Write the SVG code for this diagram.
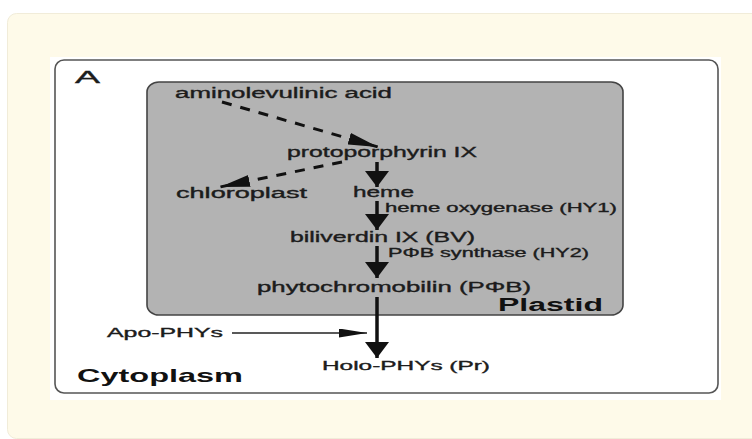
<svg xmlns="http://www.w3.org/2000/svg" width="752" height="439" viewBox="0 0 752 439">
  <style>
    .t { font-family: "Liberation Sans", Arial, sans-serif; fill: #1c1c1c; stroke: #1c1c1c; stroke-width: 0.35; }
    .n { font-size: 14px; }
    .s { font-size: 12px; }
    .m { font-size: 13px; }
    .b { font-weight: bold; fill: #111; stroke: none; }
    .thick { stroke: #111; stroke-width: 3.5; fill: none; }
    .dash { stroke: #111; stroke-width: 3; fill: none; stroke-dasharray: 10 9; }
    .thin { stroke: #222; stroke-width: 1.5; fill: none; }
  </style>
  <defs>
    <marker id="big" markerUnits="userSpaceOnUse" viewBox="0 0 16 24" refX="16" refY="12" markerWidth="16" markerHeight="24" orient="auto">
      <path d="M0,0 L16,12 L0,24 z" fill="#111"/>
    </marker>
    <marker id="dashhead" markerUnits="userSpaceOnUse" viewBox="0 0 30 12" refX="30" refY="6" markerWidth="30" markerHeight="12" orient="auto">
      <path d="M0,0 L30,6 L0,12 z" fill="#111"/>
    </marker>
    <marker id="small" markerUnits="userSpaceOnUse" viewBox="0 0 28 9" refX="28" refY="4.5" markerWidth="28" markerHeight="9" orient="auto">
      <path d="M0,0 L28,4.5 L0,9 z" fill="#111"/>
    </marker>
  </defs>

  <!-- background panel -->
  <rect x="7.5" y="13.5" width="760" height="425" rx="9" ry="9" fill="#fefae9" stroke="#f1ecd9" stroke-width="1"/>
  <rect x="50" y="57" width="671" height="343" fill="#ffffff"/>

  <g id="cytoplasm">
    <rect x="55" y="60" width="663" height="333" rx="9" ry="9" fill="#ffffff" stroke="#555" stroke-width="1.6"/>
    <text class="t b" x="77" y="382" font-size="19" textLength="166" lengthAdjust="spacingAndGlyphs">Cytoplasm</text>
    <text class="t" x="75" y="83" font-size="17" textLength="25" lengthAdjust="spacingAndGlyphs">A</text>
  </g>

  <g id="plastid">
    <rect x="147" y="82" width="476" height="233" rx="12" ry="10" fill="#b3b3b3" stroke="#444" stroke-width="1.6"/>
    <text class="t b" x="498" y="311" font-size="18" textLength="105" lengthAdjust="spacingAndGlyphs">Plastid</text>
  </g>

  <g id="aminolevulinic-acid">
    <text class="t n" x="175" y="98" textLength="217" lengthAdjust="spacingAndGlyphs">aminolevulinic acid</text>
  </g>
  <g id="protoporphyrin">
    <text class="t n" x="287" y="157" textLength="190" lengthAdjust="spacingAndGlyphs">protoporphyrin IX</text>
  </g>
  <g id="chloroplast">
    <text class="t n" x="176" y="198" textLength="131" lengthAdjust="spacingAndGlyphs">chloroplast</text>
  </g>
  <g id="heme">
    <text class="t n" x="353" y="197" textLength="61" lengthAdjust="spacingAndGlyphs">heme</text>
  </g>
  <g id="biliverdin">
    <text class="t n" x="290" y="242" textLength="185" lengthAdjust="spacingAndGlyphs">biliverdin IX (BV)</text>
  </g>
  <g id="phytochromobilin">
    <text class="t n" x="257" y="292" textLength="274" lengthAdjust="spacingAndGlyphs">phytochromobilin (PΦB)</text>
  </g>
  <g id="apo-phys">
    <text class="t m" x="107" y="337" textLength="116" lengthAdjust="spacingAndGlyphs">Apo-PHYs</text>
  </g>
  <g id="holo-phys">
    <text class="t m" x="322" y="370" textLength="168" lengthAdjust="spacingAndGlyphs">Holo-PHYs (Pr)</text>
  </g>

  <g id="connectors">
    <path class="dash" d="M222,102 L378,147" marker-end="url(#dashhead)"/>
    <path class="dash" d="M342,162 L220,187" marker-end="url(#dashhead)"/>
    <path class="thick" d="M377,162 L377,187" marker-end="url(#big)"/>
    <path class="thick" d="M377,201 L377,230" marker-end="url(#big)"/>
    <path class="thick" d="M377,246 L377,278" marker-end="url(#big)"/>
    <path class="thick" d="M377,297 L377,358" marker-end="url(#big)"/>
    <path class="thin" d="M232,333 L367,333" marker-end="url(#small)"/>
    <text class="t s" x="385" y="212" textLength="232" lengthAdjust="spacingAndGlyphs">heme oxygenase (HY1)</text>
    <text class="t s" x="388" y="257" textLength="201" lengthAdjust="spacingAndGlyphs">PΦB synthase (HY2)</text>
  </g>
</svg>
